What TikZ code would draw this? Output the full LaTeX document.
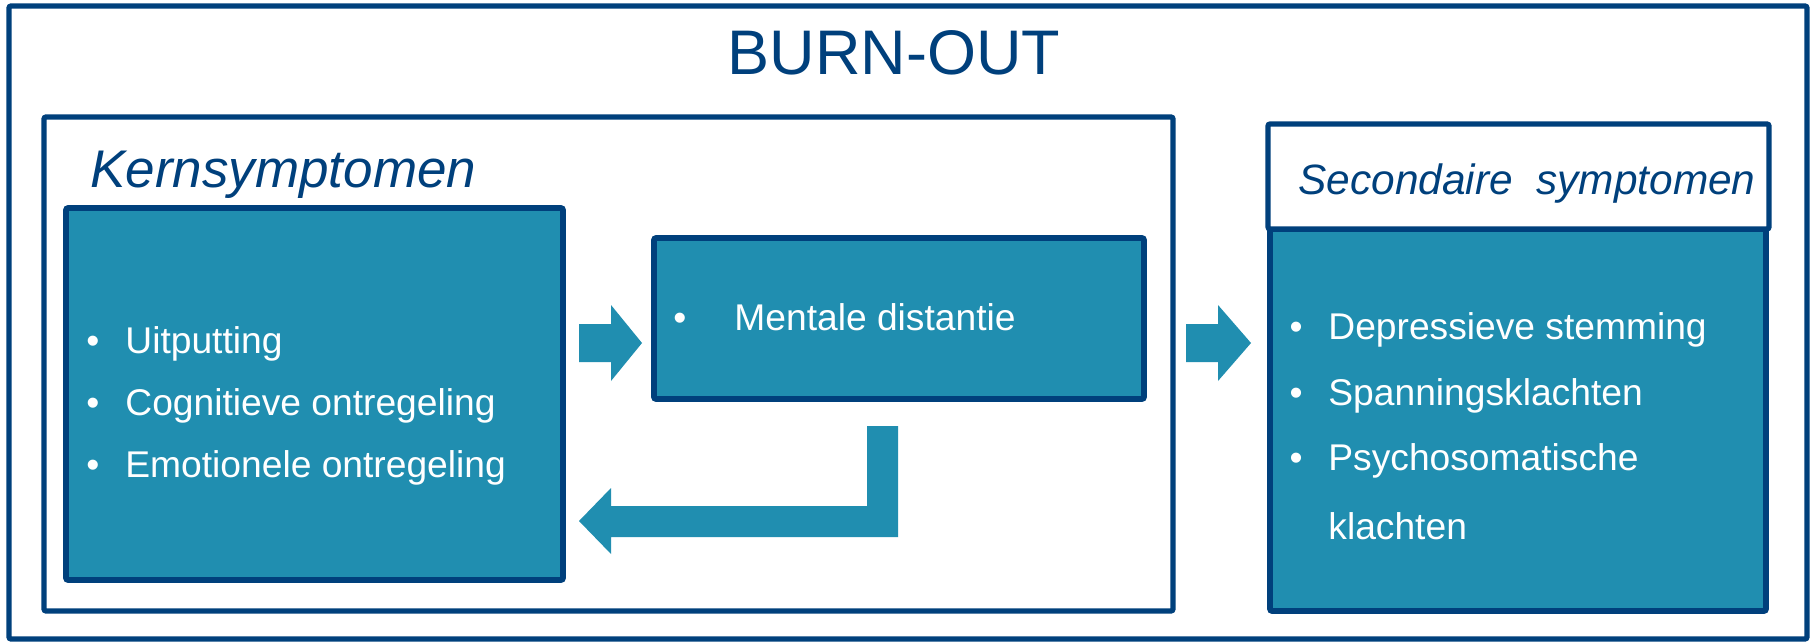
\documentclass[tikz,border=0pt]{standalone}
\usepackage{fontspec}
\setmainfont{Liberation Sans}
\definecolor{dblue}{RGB}{0,64,124}
\definecolor{tealfill}{RGB}{32,142,176}
\begin{document}
\begin{tikzpicture}[x=0.5pt,y=-0.5pt,
  frame/.style={draw=dblue, line width=2.6pt, fill=white, rounded corners=1pt, inner sep=0pt, outer sep=0pt, anchor=north west},
  bluebox/.style={draw=dblue, line width=2.8pt, fill=tealfill, rounded corners=1pt, inner sep=0pt, outer sep=0pt, anchor=north west},
  item/.style={text=white, font=\fontsize{18.6pt}{22pt}\selectfont, anchor=base west, inner sep=0pt},
  bul/.style={text=white, font=\fontsize{18.6pt}{22pt}\selectfont, anchor=base, inner sep=0pt},
  heading/.style={text=dblue, anchor=base west, inner sep=0pt},
  barrow/.style={fill=tealfill, draw=none}
]
\useasboundingbox (0,0) rectangle (1814,642);

% frames
\node[frame, minimum width=899pt, minimum height=316.5pt] (outer) at (9,6) {};
\node[text=dblue, anchor=base, inner sep=0pt, font=\fontsize{31.5pt}{36pt}\selectfont] (title) at (894,75) {BURN-OUT};

\node[frame, minimum width=564.5pt, minimum height=247pt] (kern) at (44,117) {};
\node[heading, font=\fontsize{26.5pt}{30pt}\selectfont\itshape] (kerntitle) at (90,187) {Kernsymptomen};

\node[bluebox, minimum width=248.5pt, minimum height=186pt] (left) at (66,208) {};
\node[bul] (b1) at (93,353) {•};
\node[item] (t1) at (125,353) {Uitputting};
\node[bul] (b2) at (93,415) {•};
\node[item] (t2) at (125,415) {Cognitieve ontregeling};
\node[bul] (b3) at (93,477) {•};
\node[item] (t3) at (125,477) {Emotionele ontregeling};

\node[bluebox, minimum width=245pt, minimum height=80.5pt] (mental) at (654,238) {};
\node[bul] (mb) at (680,330) {•};
\node[item] (mt) at (734,330) {Mentale distantie};

\node[bluebox, minimum width=248pt, minimum height=191pt] (sec) at (1270,229) {};
\node[frame, minimum width=250.5pt, minimum height=52.5pt] (sechead) at (1268,124) {};
\node[heading, font=\fontsize{21.2pt}{25pt}\selectfont\itshape] (sectitle) at (1298,194) {Secondaire\ \ symptomen};

\node[bul] (s1b) at (1296,339) {•};
\node[item] (s1) at (1328,339) {Depressieve stemming};
\node[bul] (s2b) at (1296,405) {•};
\node[item] (s2) at (1328,405) {Spanningsklachten};
\node[bul] (s3b) at (1296,470) {•};
\node[item] (s3) at (1328,470) {Psychosomatische};
\node[item] (s4) at (1328,539) {klachten};

% arrows
\coordinate (a1s) at (579,343);
\coordinate (a1e) at (642,343);
\fill[barrow] (a1s) ++(0,-19) -- ++(32,0) -- ++(0,-19) -- (a1e) -- ++(-31,38) -- ++(0,-19) -- ++(-32,0) -- cycle;

\coordinate (a2s) at (1186,343);
\coordinate (a2e) at (1251,343);
\fill[barrow] (a2s) ++(0,-19) -- ++(32,0) -- ++(0,-19) -- (a2e) -- ++(-33,38) -- ++(0,-19) -- ++(-32,0) -- cycle;

\coordinate (rs) at (867,426);
\coordinate (rt) at (579,521);
\fill[barrow] (rs) -- ++(31,0) -- ++(0,111) -- (611,537) -- (611,554) -- (rt) -- (611,488) -- (611,506) -- (867,506) -- cycle;
\end{tikzpicture}
\end{document}
